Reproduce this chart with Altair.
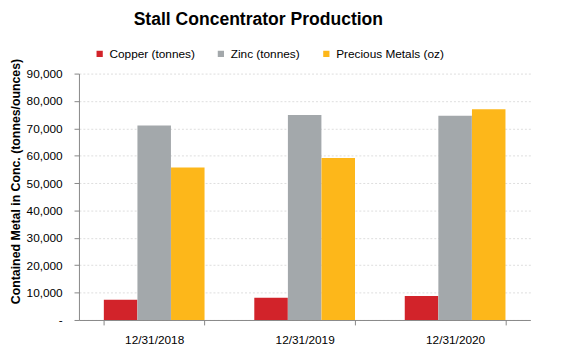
import altair as alt
import pandas as pd

periods = ["12/31/2018", "12/31/2019", "12/31/2020"]
series = ["Copper (tonnes)", "Zinc (tonnes)", "Precious Metals (oz)"]
copper = [7400, 8100, 8800]
zinc = [71000, 74900, 74600]
precious = [55700, 59200, 77000]
colors = ["#D2232A", "#A3A8AB", "#FDB71A"]
y_ticks = [0, 10000, 20000, 30000, 40000, 50000, 60000, 70000, 80000, 90000]

rows = []
for i, p in enumerate(periods):
    for s, vals in zip(series, [copper, zinc, precious]):
        rows.append({"period": p, "series": s, "value": vals[i]})
df = pd.DataFrame(rows)

FONT = "Liberation Sans"

bars = alt.Chart(df).mark_bar(size=34).encode(
    x=alt.X("period:N", sort=periods,
            scale=alt.Scale(paddingInner=0.33, paddingOuter=0.165),
            axis=alt.Axis(title=None, labelAngle=0, labelFontSize=12, labelFont=FONT,
                          labelColor="#000000", domainColor="#868686", tickColor="#868686",
                          tickSize=5, tickBand="extent", labelPadding=10, grid=False)),
    xOffset=alt.XOffset("series:N", sort=series),
    y=alt.Y("value:Q", scale=alt.Scale(domain=[0, 90000], nice=False),
            axis=alt.Axis(title="Contained Metal in Conc. (tonnes/ounces)", values=y_ticks,
                          labelExpr="datum.value == 0 ? '-\u2007' : format(datum.value, ',')",
                          labelFontSize=12, labelFont=FONT, labelColor="#000000",
                          titleFontSize=12.5, titleFont=FONT, titleFontWeight="bold",
                          titleColor="#000000", titleAngle=270, titleBaseline="middle",
                          titleAlign="center", titleX=-64, titleY=109,
                          domainColor="#868686", tickColor="#868686", tickSize=5,
                          labelPadding=12, gridColor="#DDDDDD", gridDash=[2, 2])),
    color=alt.Color("series:N", sort=series,
                    scale=alt.Scale(domain=series, range=colors),
                    legend=alt.Legend(title=None, orient="none", direction="horizontal",
                                      legendX=15, legendY=-26, symbolType="square",
                                      symbolSize=40, symbolStrokeWidth=0,
                                      labelFontSize=12, labelFont=FONT, labelColor="#000000",
                                      labelOffset=4, columnPadding=20, padding=0)),
)

chart = bars.properties(
    width=458, height=250,
    padding={"left": 72, "top": 64, "right": 24, "bottom": 34},
    autosize=alt.AutoSizeParams(type="none"),
    title=alt.TitleParams("Stall Concentrator Production", font=FONT, fontSize=17.8,
                          fontWeight="bold", color="#000000", anchor="middle", dx=-47, dy=-16),
).configure_view(stroke=None).configure_scale(bandPaddingInner=0)

chart.save("out.html", embed_options={"renderer": "svg", "actions": False})
